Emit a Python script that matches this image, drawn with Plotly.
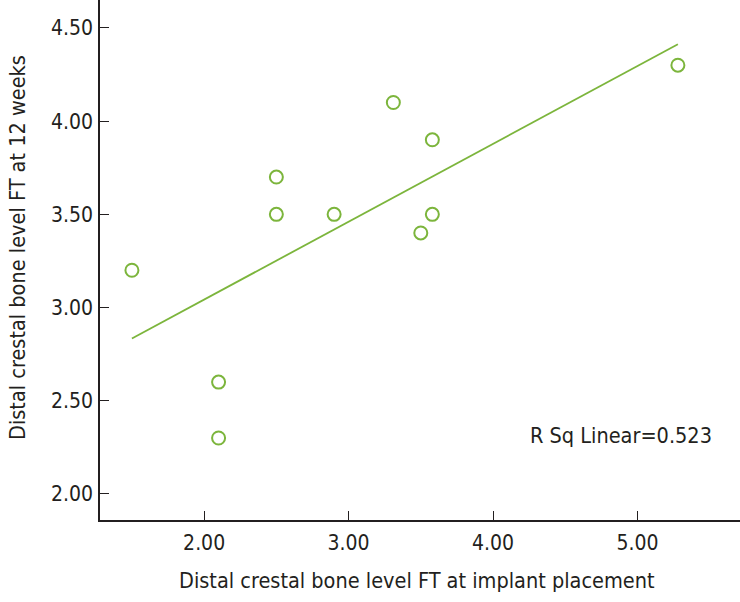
import numpy as np
import plotly.graph_objects as go

x_vals = [1.50, 2.10, 2.10, 2.50, 2.50, 2.90, 3.31, 3.58, 3.58, 3.50, 5.28]
y_vals = [3.20, 2.60, 2.30, 3.70, 3.50, 3.50, 4.10, 3.90, 3.50, 3.40, 4.30]
x_ticks = [2.0, 3.0, 4.0, 5.0]
y_ticks = [2.0, 2.5, 3.0, 3.5, 4.0, 4.5]
r2_label = "R Sq Linear=0.523"

GREEN = "#7cb53c"
AXIS = "#231f20"
FONT = "Liberation Sans Narrow, DejaVu Sans Condensed, Arial Narrow, sans-serif"

slope, intercept = np.polyfit(x_vals, y_vals, 1)
fit_x = [min(x_vals), max(x_vals)]
fit_y = [slope * v + intercept for v in fit_x]

fig = go.Figure()
fig.add_trace(go.Scatter(x=fit_x, y=fit_y, mode="lines",
                         line=dict(color=GREEN, width=1.8), showlegend=False))
fig.add_trace(go.Scatter(x=x_vals, y=y_vals, mode="markers",
                         marker=dict(symbol="circle-open", size=13, color=GREEN,
                                     line=dict(width=2, color=GREEN)),
                         showlegend=False))

fig.update_layout(
    width=740, height=602,
    margin=dict(l=100, r=0, t=0, b=82, autoexpand=False),
    paper_bgcolor="white", plot_bgcolor="white",
    font=dict(family=FONT, size=21, color=AXIS),
    xaxis=dict(range=[1.279, 5.71], tickvals=x_ticks,
               ticktext=[f"{v:.2f}" for v in x_ticks],
               showgrid=False, zeroline=False, showline=True,
               linecolor=AXIS, linewidth=1.5, ticks="inside", ticklen=9,
               tickcolor=AXIS, tickwidth=1.2, tickfont=dict(size=21),
               ticklabelstandoff=3, automargin=False),
    yaxis=dict(range=[1.86, 4.65], tickvals=y_ticks,
               ticktext=[f"{v:.2f}" for v in y_ticks],
               showgrid=False, zeroline=False, showline=True,
               linecolor=AXIS, linewidth=1.5, ticks="inside", ticklen=9,
               tickcolor=AXIS, tickwidth=1.2, tickfont=dict(size=21),
               ticklabelstandoff=1, automargin=False),
    annotations=[
        dict(text="Distal crestal bone level FT at implant placement",
             xref="paper", yref="paper", x=(417 - 100) / 640, y=-(580 - 520) / 520,
             xanchor="center", yanchor="middle", showarrow=False,
             font=dict(size=21.5)),
        dict(text="Distal crestal bone level FT at 12 weeks",
             xref="paper", yref="paper", x=-(100 - 18) / 640, y=(520 - 248) / 520,
             xanchor="center", yanchor="middle", textangle=-90, showarrow=False,
             font=dict(size=21.5)),
        dict(text=r2_label, xref="paper", yref="paper",
             x=(714 - 100) / 640, y=(520 - 435) / 520,
             xanchor="right", yanchor="middle", showarrow=False,
             font=dict(size=21.5)),
    ],
)

fig.write_html("out.html", config={"displayModeBar": False},
               post_script="document.body.style.margin='0';document.body.style.padding='0';")
